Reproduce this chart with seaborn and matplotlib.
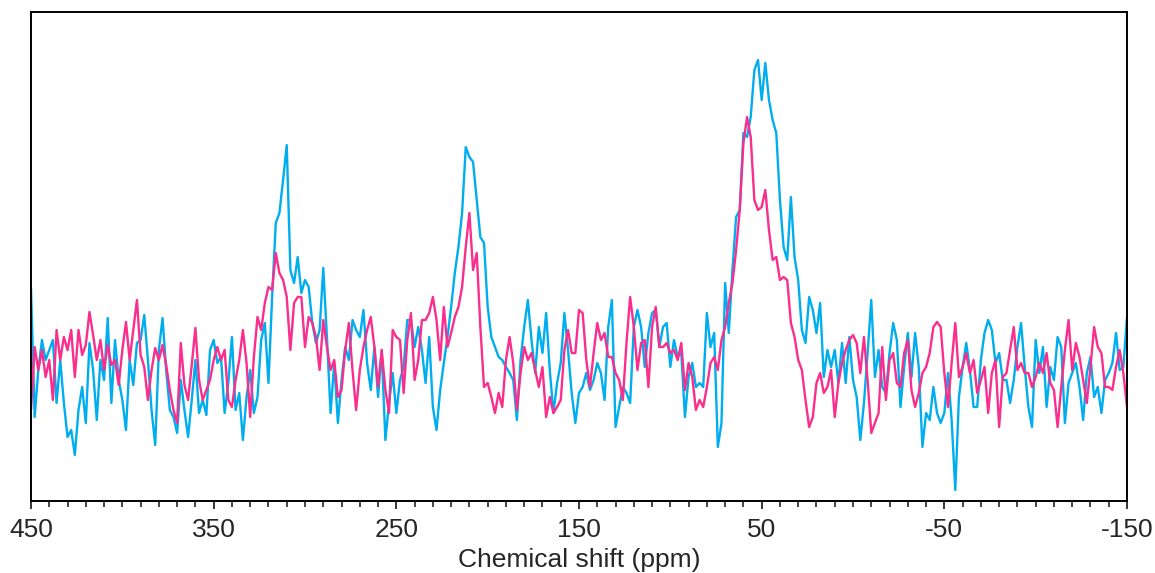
import numpy as np
import pandas as pd
import matplotlib
matplotlib.use("Agg")
import matplotlib.pyplot as plt
from matplotlib.ticker import MultipleLocator, FixedLocator
import seaborn as sns

# Chemical shift axis (ppm), 2 ppm steps from 450 down to -150
ppm = np.arange(450, -151, -2)

# Intensities (arbitrary units)
blue = [
    # 450 .. 350
    112, -17, 30, 60, 40, 50, 60, -3, 40, -3,
    -37, -30, -55, -10, 13, -23, 57, 30, -20, 40,
    20, 82, -3, 60, 20, 0, -30, 40, 15, 57,
    60, 85, 40, -10, -45, 50, 82, 30, -10, -17,
    -33, 20, -10, -37, 0, 40, -13, 0, -15, 50,
    60,
    # 348 .. 250
    37, 43, -13, 17, 63, -10, 7, -40, 3, 30,
    -13, 3, 60, 77, 17, 103, 177, 187, 220, 255,
    130, 117, 143, 107, 120, 113, 77, 57, 70, 132,
    63, -13, 37, -23, 20, 53, 40, 80, 70, 63,
    90, 37, 10, 53, 3, 50, -40, -3, 27, -13,
    # 248 .. 150
    20, 33, 80, 80, 53, 73, 50, 17, 63, -7,
    -30, 10, 37, 63, 93, 127, 153, 187, 253, 243,
    238, 200, 163, 157, 93, 63, 53, 43, 40, 33,
    27, 20, -20, 40, 73, 100, 60, 27, 73, 47,
    87, 30, -13, 17, 37, 87, 50, 7, -23, 7,
    # 148 .. 72
    13, 27, 10, 20, 37, 27, 0, 73, 100, -27,
    -7, 13, 7, -3, 73, 90, 73, 33, 67, 87,
    90, 53, 73, 77, 33, 60, 43, 47, -17, 23,
    37, 13, 17, 13, 87, 53, 67, -47, -23,
    # 70 .. 2
    117, 67, 130, 183, 190, 267, 263, 283, 330, 340,
    300, 337, 300, 280, 267, 200, 153, 140, 203, 143,
    120, 70, 57, 103, 90, 67, 97, 23, 50, 33,
    50, 17, 57, 17, 63,
    # 0 .. -150
    20, 3, -40, -3, 47, 100, 23, 50, 13, 7,
    47, 77, 60, -7, 33, 67, 23, 67, 33, -47,
    -13, -20, 13, -13, -23, -13, 27, -20, -90, 3,
    33, 57, 30, -7, -7, 40, 67, 80, 70, 37,
    47, 20, 20, -3, 20, 53, 77, 33, -7, -27,
    60, 27, 53, -7, 33, 20, 63, 53, -23, 17,
    27, 37, 13, -20, 27, 43, 3, 13, -13, 20,
    27, 37, 67, 30, 33, 83,
]

pink = [
    # 450 .. 350
    -10, 53, 30, 50, 23, 40, 0, 70, 40, 63,
    50, 70, 23, 70, 45, 55, 88, 65, 40, 60,
    30, 55, 35, 40, 15, 50, 78, 40, 70, 100,
    45, 33, 0, 30, 52, 40, 55, 35, 10, -10,
    -23, 57, 15, 0, 35, 72, 20, 0, 10, 20,
    40,
    # 348 .. 250
    53, 40, 50, 0, -7, 20, 40, 70, 37, -17,
    43, 83, 70, 97, 113, 110, 147, 127, 120, 103,
    50, 97, 103, 103, 53, 83, 77, 63, 30, 80,
    53, 30, 40, 3, 10, 50, 77, 30, -10, 30,
    53, 70, 83, 53, 13, 50, 10, -13, 70, 63,
    # 248 .. 150
    60, 7, 60, 87, 20, 40, 80, 80, 87, 103,
    80, 40, 93, 53, 67, 83, 93, 113, 153, 187,
    130, 147, 73, 13, 17, 3, -13, 7, -7, 40,
    63, 37, -10, 27, 53, 40, 47, 30, 13, 33,
    -17, 3, -13, -7, 0, 50, 70, 47, 47, 90,
    # 148 .. 72
    87, 40, 13, 47, 77, 60, 67, 43, 43, 27,
    20, 0, 57, 103, 73, 30, 57, 60, 13, 73,
    93, 53, 53, 57, 47, 50, 40, 57, 10, 37,
    23, -10, 0, -7, 13, 37, 43, 30, 60,
    # 70 .. 2
    73, 97, 117, 150, 190, 257, 283, 263, 200, 190,
    193, 210, 170, 140, 143, 120, 123, 120, 77, 63,
    40, 30, 0, -27, -17, 17, 27, 7, 13, 30,
    -17, 17, 37, 50, 60,
    # 0 .. -150
    65, 57, 27, 63, 20, -33, -23, -13, 53, 0,
    40, 47, 17, 13, 47, 60, 10, -7, 7, 27,
    33, 47, 73, 78, 73, 27, -7, 37, 77, 23,
    33, 47, 27, 40, 7, 20, 33, -13, 27, 40,
    -27, 23, 27, 50, 73, 30, 37, 27, 27, 13,
    23, 37, 27, 47, 17, 10, -27, 13, 50, 80,
    30, 57, 43, 20, -3, 33, 73, 53, 47, 13,
    13, 10, 33, 50, 27, -7,
]

tick_labels = ["450", "350", "250", "150", "50", "-50", "-150"]
tick_pos = [450, 350, 250, 150, 50, -50, -150]

df = pd.concat([
    pd.DataFrame({"ppm": ppm, "intensity": blue, "sample": "blue"}),
    pd.DataFrame({"ppm": ppm, "intensity": pink, "sample": "pink"}),
], ignore_index=True)

sns.set_style("white")
plt.rcParams["font.family"] = ["Liberation Sans", "DejaVu Sans"]

fig = plt.figure(figsize=(11.55, 5.73), dpi=100)
ax = fig.add_axes([31 / 1155, 1 - 501 / 573, (1127 - 31) / 1155, (501 - 12) / 573])

sns.lineplot(data=df, x="ppm", y="intensity", hue="sample",
             palette={"blue": "#00AEEF", "pink": "#FA2E8C"},
             hue_order=["blue", "pink"], estimator=None, sort=False,
             legend=False, linewidth=1.7, ax=ax)

ax.set_xlim(450, -150)
ax.set_ylim(-101, 388)
ax.set_yticks([])
ax.set_ylabel("")
ax.xaxis.set_major_locator(FixedLocator(tick_pos))
ax.set_xticklabels(tick_labels)
ax.xaxis.set_minor_locator(MultipleLocator(10))
ax.tick_params(axis="x", which="major", direction="out", length=6, width=1.3,
               labelsize=19, pad=6, bottom=True)
ax.tick_params(axis="x", which="minor", direction="out", length=4, width=1.2,
               bottom=True)
for s in ax.spines.values():
    s.set_visible(True)
    s.set_color("black")
    s.set_linewidth(1.4)
ax.set_xlabel("Chemical shift (ppm)", fontsize=19, labelpad=4.5)

fig.savefig("out.png", dpi=100)
